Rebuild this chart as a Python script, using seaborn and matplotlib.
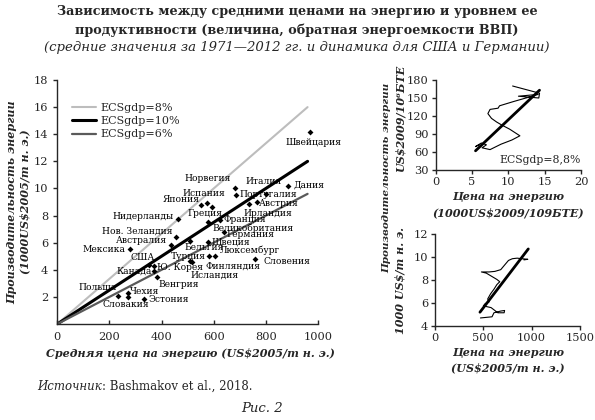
import numpy as np
import pandas as pd
import matplotlib
matplotlib.use("Agg")
import matplotlib.pyplot as plt
import seaborn as sns

# ---------------- data ----------------
countries = ["Швейцария", "Норвегия", "Италия", "Дания", "Португалия", "Австрия",
             "Ирландия", "Испания", "Япония", "Греция", "Нидерланды", "Франция",
             "Великобритания", "Германия", "Нов. Зеландия", "Австралия", "Бельгия",
             "Швеция", "Мексика", "США", "Ю. Корея", "Канада", "Венгрия", "Турция",
             "Исландия", "Финляндия", "Люксембург", "Словения", "Польша", "Чехия",
             "Словакия", "Эстония"]
price = [970, 680, 800, 885, 687, 765, 735, 575, 552, 593, 463, 626,
         577, 638, 456, 436, 508, 577, 277, 350, 372, 372, 382, 508,
         515, 580, 605, 760, 232, 272, 271, 334]
productivity = [14.2, 10.05, 9.6, 10.2, 9.55, 9.0, 8.85, 8.9, 8.8, 8.6, 7.75, 7.7,
                7.55, 6.76, 6.4, 5.83, 6.1, 6.07, 5.5, 4.35, 4.25, 3.9, 3.45, 4.65,
                4.55, 5.03, 5.05, 4.77, 2.07, 2.28, 2.0, 1.82]

ecs_names = ["ECSgdp=8%", "ECSgdp=10%", "ECSgdp=6%"]
ecs_price = [0, 960]
ecs_prod_end = [16.0, 12.0, 9.6]

us_price = [6.0, 5.5, 6.3, 7.0, 6.4, 7.5, 9.0, 10.5, 11.6, 10.2, 9.1, 8.4, 7.7, 7.2,
            7.5, 8.6, 8.8, 10.7, 13.0, 14.1, 11.4, 14.2, 14.3, 10.6]
us_prod = [72, 69, 75, 72, 67, 64, 73, 80, 87, 98, 105, 110, 116, 124,
           131, 133, 137, 144, 152, 156, 153, 150, 158, 170]
us_fit_price = [5.5, 14.3]
us_fit_prod = [62, 163]

de_price = [470, 530, 590, 610, 680, 720, 715, 650, 580, 500, 520, 560, 545, 575, 610, 640,
            670, 640, 590, 530, 480, 560, 620, 680, 720, 760, 800, 850, 900, 960, 920]
de_prod = [4.7, 4.75, 4.8, 5.15, 5.3, 5.35, 5.15, 5.15, 5.6, 5.75, 5.95, 6.1, 6.35, 6.8, 7.2, 7.6,
           7.85, 8.05, 8.3, 8.6, 8.7, 8.7, 8.75, 8.9, 9.3, 9.7, 9.85, 9.9, 9.85, 9.8, 9.75]
de_fit_price = [465, 965]
de_fit_prod = [5.2, 10.7]

main_xticks = [0, 200, 400, 600, 800, 1000]
main_yticks = [2, 4, 6, 8, 10, 12, 14, 16, 18]
us_xticks = [0, 5, 10, 15, 20]
us_yticks = [30, 60, 90, 120, 150, 180]
de_xticks = [0, 500, 1000, 1500]
de_yticks = [4, 6, 8, 10, 12]

# label layout: offset in pixels (dx, dy) and horizontal alignment
label_layout = {
    "Швейцария": (3, -11, "center"), "Норвегия": (-4, 9, "right"),
    "Италия": (-2, 12, "center"), "Дания": (5, 1, "left"),
    "Португалия": (3, 0, "left"), "Австрия": (2, -2, "left"),
    "Ирландия": (-5, -9, "left"), "Испания": (-3, 10, "center"),
    "Япония": (-2, 5, "right"), "Греция": (-7, -6, "center"),
    "Нидерланды": (-4, 2, "right"), "Франция": (3, 0, "left"),
    "Великобритания": (5, -7, "left"), "Германия": (3, -2, "left"),
    "Нов. Зеландия": (-4, 6, "right"), "Австралия": (-4, 4, "right"),
    "Бельгия": (-5, -6, "left"), "Швеция": (4, 0, "left"),
    "Мексика": (-4, 0, "right"), "США": (-6, 8, "center"),
    "Ю. Корея": (3, -1, "left"), "Канада": (-2, 0, "right"),
    "Венгрия": (2, -7, "left"), "Турция": (-1, 4, "center"),
    "Исландия": (-1, -13, "left"), "Финляндия": (-3, -10, "left"),
    "Люксембург": (5, 5, "left"), "Словения": (8, -2, "left"),
    "Польша": (-1, 8, "right"), "Чехия": (2, 2, "left"),
    "Словакия": (-2, -8, "center"), "Эстония": (4, 0, "left"),
}

# ---------------- style ----------------
sns.set_theme(style="ticks")
SERIF = ["DejaVu Serif", "Liberation Serif"]
plt.rcParams["font.family"] = SERIF
plt.rcParams["axes.linewidth"] = 1.0
plt.rcParams["xtick.major.size"] = 3
plt.rcParams["ytick.major.size"] = 3
plt.rcParams["xtick.major.width"] = 1.0
plt.rcParams["ytick.major.width"] = 1.0

W, H = 595, 420
fig = plt.figure(figsize=(W / 100, H / 100), dpi=100)
fig.patch.set_facecolor("white")


def fx(x):
    return x / W


def fy(y):
    return 1 - y / H


def axes_px(left, top, right, bottom):
    return fig.add_axes([fx(left), fy(bottom), (right - left) / W, (bottom - top) / H])


tick_fs = 8.2

# ---------------- main chart ----------------
ax = axes_px(57.3, 80, 318, 324)
df = pd.DataFrame({"price": price, "prod": productivity, "country": countries})

line_colors = ["#bdbdbd", "#000000", "#5a5a5a"]
line_widths = [1.5, 2.2, 1.6]
for name, yend, c, lw in zip(ecs_names, ecs_prod_end, line_colors, line_widths):
    ldf = pd.DataFrame({"x": ecs_price, "y": [0, yend]})
    sns.lineplot(data=ldf, x="x", y="y", ax=ax, color=c, lw=lw, label=name,
                 sort=False, estimator=None)

sns.scatterplot(data=df, x="price", y="prod", ax=ax, marker="D", color="black",
                s=9, linewidth=0, zorder=5, legend=False)

for c, x, y in zip(countries, price, productivity):
    dx, dy, ha = label_layout[c]
    ax.annotate(c, (x, y), xytext=(dx, dy), textcoords="offset pixels",
                ha=ha, va="center", fontsize=6.6, color="black", zorder=6)

ax.set_xlim(0, 1000)
ax.set_ylim(0, 18)
ax.set_xticks(main_xticks)
ax.set_yticks(main_yticks)
ax.tick_params(axis="both", labelsize=tick_fs, length=3)
ax.tick_params(axis="x", direction="in", pad=6)
sns.despine(ax=ax)
ax.set_xlabel("")
ax.set_ylabel("")
ax.legend(loc="upper left", bbox_to_anchor=(0.04, 0.925), frameon=False,
          fontsize=8, handlelength=2.1, labelspacing=0.3, handletextpad=0.4,
          borderaxespad=0)

fig.text(fx(190), fy(353), "Средняя цена на энергию (US$2005/т н. э.)",
         ha="center", va="center", fontsize=8, style="italic", weight="bold")
fig.text(fx(12), fy(202), "Производительность энергии",
         ha="center", va="center", fontsize=8, style="italic", weight="bold", rotation=90)
fig.text(fx(25), fy(202), "(1000US$2005/т н. э.)",
         ha="center", va="center", fontsize=8, style="italic", weight="bold", rotation=90)

# ---------------- top right: USA ----------------
ax2 = axes_px(435.5, 80, 581, 170)
sns.lineplot(x=us_price, y=us_prod, ax=ax2, color="black", lw=0.8, sort=False, estimator=None)
sns.lineplot(x=us_fit_price, y=us_fit_prod, ax=ax2, color="black", lw=2.0, sort=False, estimator=None)
ax2.set_xlim(0, 20)
ax2.set_ylim(30, 180)
ax2.set_xticks(us_xticks)
ax2.set_yticks(us_yticks)
ax2.tick_params(axis="both", labelsize=tick_fs, length=3, pad=2)
sns.despine(ax=ax2)
ax2.text(20, 47, "ECSgdp=8,8%", ha="right", va="center", fontsize=7.8)
fig.text(fx(508), fy(197), "Цена на энергию", ha="center", va="center",
         fontsize=8, style="italic", weight="bold")
fig.text(fx(508), fy(213), "(1000US$2009/109БТЕ)", ha="center", va="center",
         fontsize=8, style="italic", weight="bold")
fig.text(fx(400), fy(118), "US$2009/10⁶БТЕ", ha="center", va="center",
         fontsize=8, style="italic", weight="bold", rotation=90)
fig.text(fx(387), fy(178), "Производительность энергии", ha="center", va="center",
         fontsize=7.5, style="italic", weight="bold", rotation=90)

# ---------------- bottom right: Germany ----------------
ax3 = axes_px(435, 234, 580, 326)
sns.lineplot(x=de_price, y=de_prod, ax=ax3, color="black", lw=0.8, sort=False, estimator=None)
sns.lineplot(x=de_fit_price, y=de_fit_prod, ax=ax3, color="black", lw=2.0, sort=False, estimator=None)
ax3.set_xlim(0, 1500)
ax3.set_ylim(4, 12)
ax3.set_xticks(de_xticks)
ax3.set_yticks(de_yticks)
ax3.tick_params(axis="both", labelsize=tick_fs, length=3, pad=2)
sns.despine(ax=ax3)
fig.text(fx(508), fy(353), "Цена на энергию", ha="center", va="center",
         fontsize=8, style="italic", weight="bold")
fig.text(fx(508), fy(368), "(US$2005/т н. э.)", ha="center", va="center",
         fontsize=8, style="italic", weight="bold")
fig.text(fx(400), fy(280), "1000 US$/т н. э.", ha="center", va="center",
         fontsize=8, style="italic", weight="bold", rotation=90)

# ---------------- titles / notes ----------------
fig.text(fx(297), fy(12), "Зависимость между средними ценами на энергию и уровнем ее",
         ha="center", va="center", fontsize=9.2, weight="bold")
fig.text(fx(297), fy(30), "продуктивности (величина, обратная энергоемкости ВВП)",
         ha="center", va="center", fontsize=9.2, weight="bold")
fig.text(fx(297), fy(48), "(средние значения за 1971—2012 гг. и динамика для США и Германии)",
         ha="center", va="center", fontsize=9.5, style="italic")
src = fig.text(fx(37), fy(386), "Источник", ha="left", va="center", fontsize=8.5, style="italic")
ax.annotate(": Bashmakov et al., 2018.", xy=(1, 0.5), xycoords=src, ha="left", va="center",
            fontsize=8.5, annotation_clip=False)
fig.text(fx(262), fy(408), "Рис. 2", ha="center", va="center", fontsize=9.5, style="italic")

fig.savefig("out.png", dpi=100, facecolor="white")
